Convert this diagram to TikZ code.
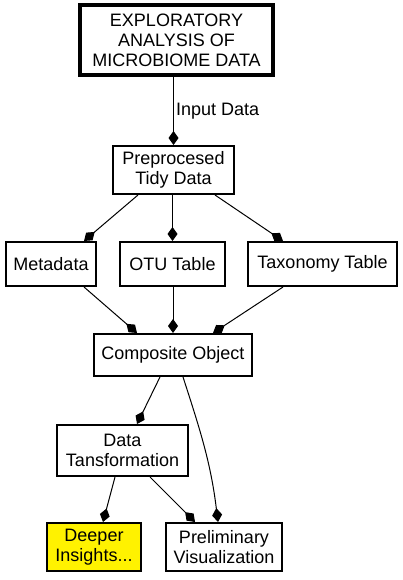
\documentclass[tikz,border=0pt]{standalone}
\usepackage{fontspec}
\setmainfont{Liberation Sans}
\usetikzlibrary{arrows.meta}
\begin{document}
\begin{tikzpicture}[x=1pt,y=1pt,
  box/.style={draw,line width=2pt,align=center,inner sep=0pt,
    font=\fontsize{18}{20}\selectfont},
  arr/.style={line width=1pt,-{Diamond[length=14pt,width=10pt]}},
  lbl/.style={font=\fontsize{18}{20}\selectfont,inner sep=2pt}]
\useasboundingbox (0,0) rectangle (403,-580);
\node[box,line width=4pt,minimum width=193pt,minimum height=70pt] (top) at (176.5,-40)
  {EXPLORATORY\\ANALYSIS OF\\MICROBIOME DATA};
\node[box,minimum width=121pt,minimum height=48pt] (prep) at (173.5,-170) {Preprocesed\\Tidy Data};
\node[box,minimum width=90pt,minimum height=44pt] (meta) at (51,-264) {Metadata};
\node[box,minimum width=105pt,minimum height=44pt] (otu) at (172.5,-264) {OTU Table};
\node[box,minimum width=149pt,minimum height=44pt] (tax) at (322.5,-264) {Taxonomy Table};
\node[box,minimum width=158pt,minimum height=42pt] (comp) at (173,-355) {Composite Object};
\node[box,minimum width=131pt,minimum height=51pt] (trans) at (122.5,-450.5) {Data\\Tansformation};
\node[box,fill=yellow,minimum width=94pt,minimum height=48pt] (deep) at (94,-547) {Deeper\\Insights...};
\node[box,minimum width=116pt,minimum height=48pt] (prel) at (224,-547) {Preliminary\\Visualization};

\draw[arr] (prep.north |- top.south) -- node[lbl,right,pos=0.5] {Input Data} (prep.north);
\draw[arr] ([xshift=-35.5pt]prep.south) -- ([xshift=33pt]meta.north);
\draw[arr] (otu.north |- prep.south) -- (otu.north);
\draw[arr] ([xshift=41.5pt]prep.south) -- ([xshift=-39.5pt]tax.north);
\draw[arr] ([xshift=33pt]meta.south) -- ([xshift=-36pt]comp.north);
\draw[arr] (comp.north |- otu.south) -- (comp.north);
\draw[arr] ([xshift=-39.5pt]tax.south) -- ([xshift=40pt]comp.north);
\draw[arr] ([xshift=-13pt]comp.south) -- ([xshift=14.5pt]trans.north);
\draw[arr] ([xshift=10pt]comp.south) to[out=-72,in=97] ([xshift=-6pt]prel.north);
\draw[arr] ([xshift=-7.5pt]trans.south) -- ([xshift=9pt]deep.north);
\draw[arr] ([xshift=27.5pt]trans.south) -- ([xshift=-29pt]prel.north);
\end{tikzpicture}
\end{document}
